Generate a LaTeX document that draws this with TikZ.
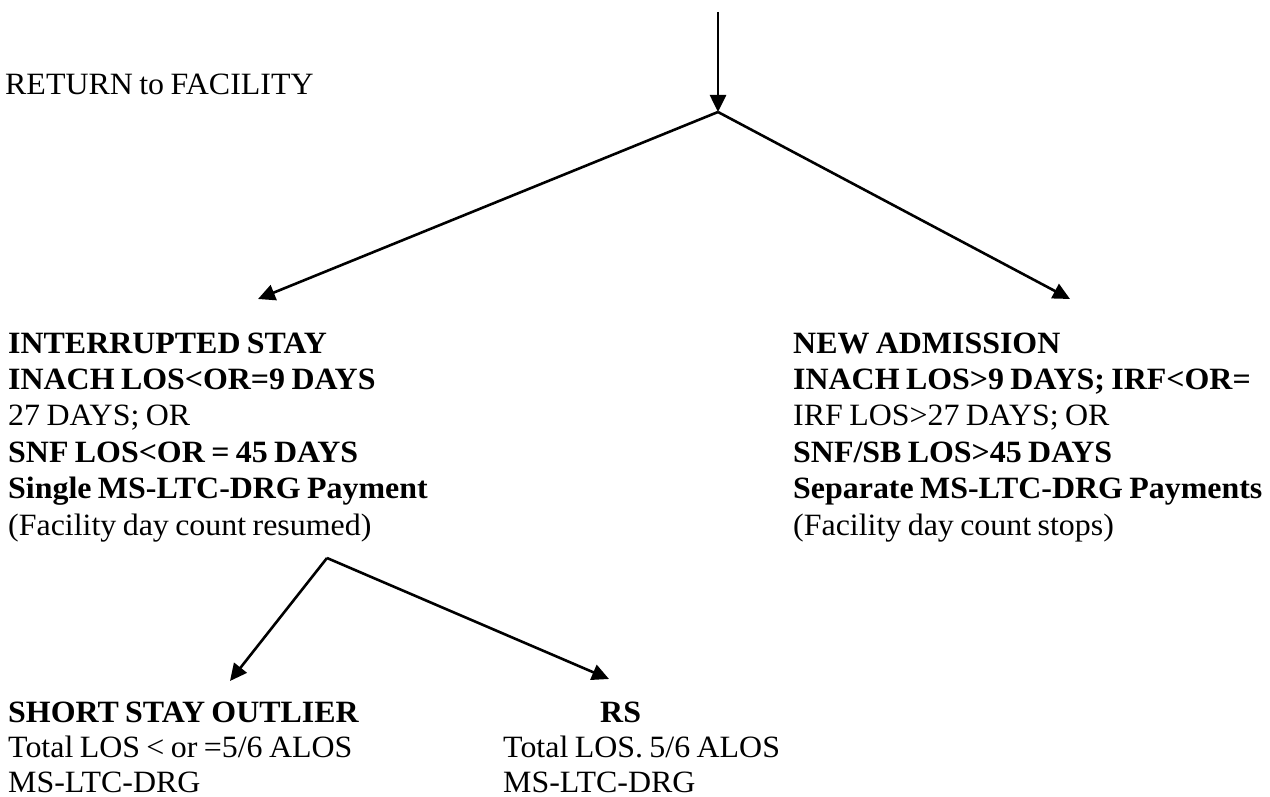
\documentclass[tikz,border=0pt]{standalone}
\usepackage{fontspec}
\setmainfont{Liberation Serif}[FakeStretch=1.03,WordSpace=0.8]
\usetikzlibrary{arrows.meta}
\begin{document}
\begin{tikzpicture}[x=1pt,y=-1pt,
  conn/.style={line width=2.6pt,-{Triangle[length=17pt,width=16pt]}},
  blk/.style={anchor=base west,inner sep=0pt,font=\fontsize{31}{36.4}\selectfont},
  blkb/.style={anchor=base west,inner sep=0pt,font=\fontsize{31}{35}\selectfont}]
\useasboundingbox (0,0) rectangle (1270,797);
\fill[white] (0,0) rectangle (1270,797);
% coordinates
\coordinate (top) at (718,12);
\coordinate (apex1) at (718,112);
\coordinate (tipL) at (258,299);
\coordinate (tipR) at (1070,299);
\coordinate (apex2) at (327,558);
\coordinate (tipS) at (230,681);
\coordinate (tipRS) at (609,679);
% texts
\node[blk] (ret) at (5,95) {RETURN to FACILITY};
\node[blk] (inter) at (8,353) {\begin{tabular}[t]{@{}l@{}}
\textbf{INTERRUPTED STAY}\\
\textbf{INACH LOS<OR=9 DAYS}\\
27 DAYS; OR\\
\textbf{SNF LOS<OR = 45 DAYS}\\
\textbf{Single MS-LTC-DRG Payment}\\
(Facility day count resumed)
\end{tabular}};
\node[blk] (newadm) at (793,353) {\begin{tabular}[t]{@{}l@{}}
\textbf{NEW ADMISSION}\\
\textbf{INACH LOS>9 DAYS; IRF<OR=}\\
IRF LOS>27 DAYS; OR\\
\textbf{SNF/SB LOS>45 DAYS}\\
\textbf{Separate MS-LTC-DRG Payments}\\
(Facility day count stops)
\end{tabular}};
\node[blkb] (sso) at (8,722) {\begin{tabular}[t]{@{}l@{}}
\textbf{SHORT STAY OUTLIER}\\
Total LOS < or =5/6 ALOS\\
MS-LTC-DRG
\end{tabular}};
\node[blkb] (rs) at (503,722) {\begin{tabular}[t]{@{}l@{}}
\hspace*{97pt}\textbf{RS}\\
Total LOS. 5/6 ALOS\\
MS-LTC-DRG
\end{tabular}};
% connectors
\draw[conn] (top) -- (apex1);
\draw[conn] (apex1) -- (tipL);
\draw[conn] (apex1) -- (tipR);
\draw[conn] (apex2) -- (tipS);
\draw[conn] (apex2) -- (tipRS);
\end{tikzpicture}
\end{document}
